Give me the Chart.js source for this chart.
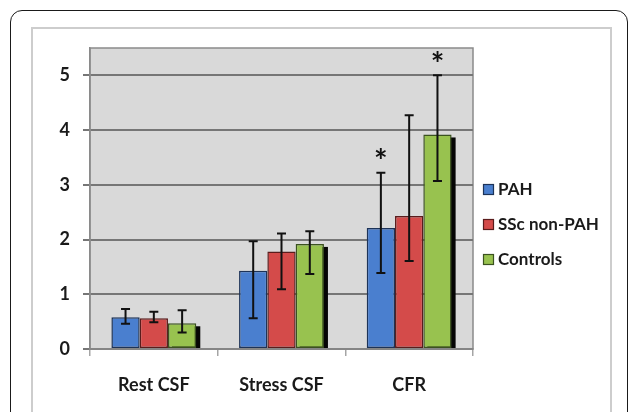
<!DOCTYPE html>
<html>
<head>
<meta charset="utf-8">
<script src="https://cdn.jsdelivr.net/npm/chart.js@4.4.0/dist/chart.umd.min.js"></script>
<style>
  html, body { margin: 0; padding: 0; background: #fff; overflow: hidden; }
  #frame { position: absolute; left: 10px; top: 10px; width: 616px; height: 520px; border: 1.5px solid #1a1a1a; border-radius: 12px; }
  #panel { position: absolute; left: 31px; top: 27px; width: 577px; height: 520px; border: 2px solid #cdcdcd; }
  #wrap { position: absolute; left: 0; top: 0; width: 629px; height: 412px; }
</style>
</head>
<body>
<div id="frame"></div>
<div id="panel"></div>
<div id="wrap"><canvas id="chart" width="629" height="412"></canvas></div>
<script>
const categories = ['Rest CSF', 'Stress CSF', 'CFR'];
const seriesNames = ['PAH', 'SSc non-PAH', 'Controls'];

const pahMean = [0.58, 1.43, 2.21];
const pahLow  = [0.46, 0.56, 1.39];
const pahHigh = [0.73, 1.97, 3.22];

const sscMean = [0.56, 1.78, 2.43];
const sscLow  = [0.49, 1.09, 1.61];
const sscHigh = [0.68, 2.11, 4.27];

const ctrlMean = [0.47, 1.92, 3.92];
const ctrlLow  = [0.30, 1.37, 3.07];
const ctrlHigh = [0.71, 2.15, 5.00];

// '*' marks drawn above the error bar
const pahStar  = [false, false, true];
const sscStar  = [false, false, false];
const ctrlStar = [false, false, true];

const yTicks = [0, 1, 2, 3, 4, 5];

const fillColors   = ['#4a7fcf', '#d44b4a', '#98c24f'];
const borderColors = ['#1d3358', '#5a1c1c', '#3b5220'];
const lows  = [pahLow, sscLow, ctrlLow];
const highs = [pahHigh, sscHigh, ctrlHigh];
const stars = [pahStar, sscStar, ctrlStar];

const FONT = 'Lato, "Open Sans", sans-serif';
const TEXT = '#1a1a1a';

const plotBackground = {
  id: 'plotBackground',
  beforeDraw(chart) {
    const { ctx, chartArea: a } = chart;
    ctx.save();
    ctx.fillStyle = '#d9d9d9';
    ctx.fillRect(a.left, a.top, a.right - a.left, a.bottom - a.top);
    ctx.strokeStyle = '#8a8a8a';
    ctx.lineWidth = 1.5;
    ctx.strokeRect(a.left, a.top, a.right - a.left, a.bottom - a.top);
    ctx.restore();
  },
};

// dark drop shadow to the right of each group (only shows beside the last bar)
const barShadow = {
  id: 'barShadow',
  beforeDatasetsDraw(chart) {
    const ctx = chart.ctx;
    const meta = chart.getDatasetMeta(2);
    ctx.save();
    ctx.fillStyle = '#050505';
    meta.data.forEach(bar => {
      const w = bar.width;
      ctx.fillRect(bar.x - w / 2 + 4, bar.y + 3, w, bar.base - bar.y - 3);
    });
    ctx.restore();
  },
};

const errorBars = {
  id: 'errorBars',
  afterDatasetsDraw(chart) {
    const { ctx, scales: { y } } = chart;
    ctx.save();
    ctx.strokeStyle = '#111';
    ctx.lineWidth = 2;
    chart.data.datasets.forEach((ds, di) => {
      chart.getDatasetMeta(di).data.forEach((bar, i) => {
        const top = y.getPixelForValue(highs[di][i]);
        const bot = y.getPixelForValue(lows[di][i]);
        ctx.beginPath();
        ctx.moveTo(bar.x, top); ctx.lineTo(bar.x, bot);
        ctx.moveTo(bar.x - 4.5, top); ctx.lineTo(bar.x + 4.5, top);
        ctx.moveTo(bar.x - 4.5, bot); ctx.lineTo(bar.x + 4.5, bot);
        ctx.stroke();
        if (stars[di][i]) {
          ctx.fillStyle = '#111';
          ctx.font = 'bold 32px ' + FONT;
          ctx.textAlign = 'center';
          ctx.textBaseline = 'middle';
          ctx.fillText('*', bar.x, top - 10);
        }
      });
    });
    ctx.restore();
  },
};

const sideLegend = {
  id: 'sideLegend',
  afterDraw(chart) {
    const ctx = chart.ctx;
    ctx.save();
    ctx.font = 'bold 17px ' + FONT;
    ctx.textBaseline = 'middle';
    ctx.textAlign = 'left';
    seriesNames.forEach((name, i) => {
      const cy = 190 + i * 35;
      ctx.fillStyle = fillColors[i];
      ctx.fillRect(483.5, cy - 5.5, 10, 10);
      ctx.strokeStyle = borderColors[i];
      ctx.lineWidth = 1.2;
      ctx.strokeRect(483.5, cy - 5.5, 10, 10);
      ctx.fillStyle = TEXT;
      ctx.fillText(name, 498, cy);
    });
    ctx.restore();
  },
};

new Chart(document.getElementById('chart'), {
  type: 'bar',
  data: {
    labels: categories,
    datasets: [
      { label: seriesNames[0], data: pahMean },
      { label: seriesNames[1], data: sscMean },
      { label: seriesNames[2], data: ctrlMean },
    ].map((ds, i) => ({
      ...ds,
      backgroundColor: fillColors[i],
      borderColor: borderColors[i],
      borderWidth: 1.5,
      borderSkipped: false,
      categoryPercentage: 0.665,
      barPercentage: 1.0,
    })),
  },
  options: {
    responsive: false,
    animation: false,
    layout: { padding: { top: 48, right: 156, left: 0, bottom: 0 } },
    plugins: {
      legend: { display: false },
      tooltip: { enabled: false },
    },
    scales: {
      x: {
        afterFit(scale) { scale.height = 63; },
        grid: { drawOnChartArea: false, drawTicks: true, tickLength: 7, color: '#a5a5a5', lineWidth: 1.5 },
        border: { color: '#858585', width: 2 },
        ticks: { color: TEXT, font: { family: FONT, size: 18, weight: 'bold' }, padding: 18 },
      },
      y: {
        min: 0,
        max: 5.5,
        afterFit(scale) { scale.width = 90; },
        afterBuildTicks(scale) { scale.ticks = yTicks.map(v => ({ value: v })); },
        grid: { color: '#767676', lineWidth: 2, tickLength: 7 },
        border: { color: '#8a8a8a', width: 1.5 },
        ticks: { color: TEXT, font: { family: FONT, size: 18, weight: 'bold' }, padding: 13 },
      },
    },
  },
  plugins: [plotBackground, barShadow, errorBars, sideLegend],
});
</script>
</body>
</html>
